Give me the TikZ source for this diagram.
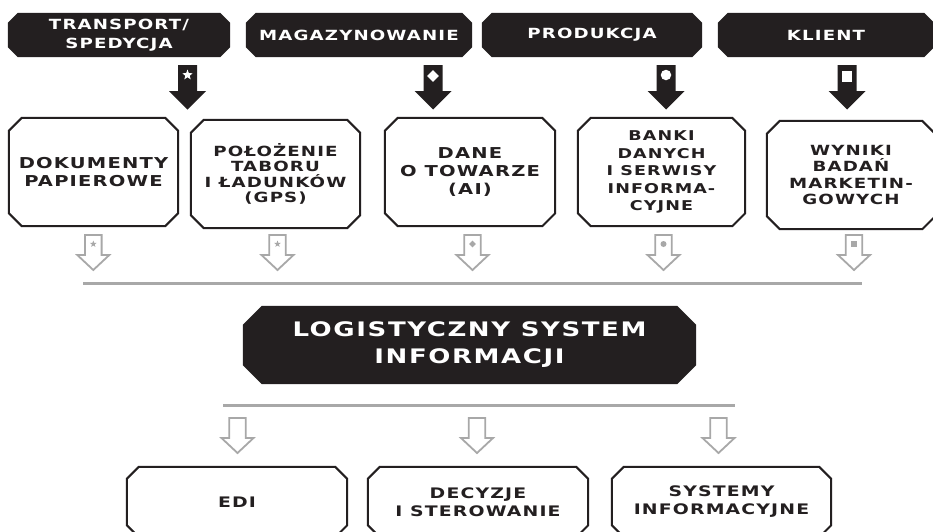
\documentclass[tikz,border=0pt]{standalone}
\usepackage{fontspec}
\newfontfamily\techfont{DejaVu Sans}[FakeStretch=1.3,LetterSpace=8]
\usetikzlibrary{shapes.geometric}
\definecolor{ink}{HTML}{231F20}
\definecolor{rulegray}{HTML}{A8A8A8}
\pgfdeclarelayer{paper}
\pgfdeclarelayer{bg}
\pgfsetlayers{paper,bg,main}

% octagonal frame behind a named node: #1 node, #2 corner cut, #3 path options
\newcommand\octframe[3]{%
  \begin{pgfonlayer}{bg}
  \path[#3] ([xshift=#2]#1.north west) -- ([xshift=-#2]#1.north east)
    -- ([yshift=-#2]#1.north east) -- ([yshift=#2]#1.south east)
    -- ([xshift=-#2]#1.south east) -- ([xshift=#2]#1.south west)
    -- ([yshift=#2]#1.south west) -- ([yshift=-#2]#1.north west) -- cycle;
  \end{pgfonlayer}}

% block arrow pointing down: #1 options, #2 centre x, #3 top y, #4 head y,
% #5 tip y, #6 half shaft width, #7 half head width
\newcommand\blockarrow[7]{%
  \path[#1] (#2-#6,#3) -- (#2+#6,#3) -- (#2+#6,#4) -- (#2+#7,#4)
    -- (#2,#5) -- (#2-#7,#4) -- (#2-#6,#4) -- cycle;}

\begin{document}
\begin{tikzpicture}[x=1pt,y=-1pt,
  every node/.style={inner sep=0pt, align=center},
  headbox/.style={minimum height=44pt, text=white,
    font=\techfont\bfseries\fontsize{14}{18.5}\selectfont},
  srcbox/.style={minimum height=108pt, text=ink,
    font=\techfont\bfseries\fontsize{15}{18}\selectfont},
  corebox/.style={minimum width=453pt, minimum height=78pt, text=white,
    font=\techfont\bfseries\fontsize{20}{27}\selectfont},
  outbox/.style={minimum height=70pt, text=ink,
    font=\techfont\bfseries\fontsize{14.5}{18}\selectfont},
  darkfill/.style={fill=ink},
  lightframe/.style={fill=white, draw=ink, line width=2pt},
  inkarrow/.style={fill=ink},
  grayarrow/.style={fill=white, draw=rulegray, line width=1.8pt, line join=miter},
  busline/.style={draw=rulegray, line width=3pt},
  whitemark/.style={fill=white, draw=none, inner sep=0pt},
  graymark/.style={fill=rulegray, draw=none, inner sep=0pt}
]
\useasboundingbox (0,0) rectangle (933,531);
\begin{pgfonlayer}{paper}
\fill[white] (0,0) rectangle (933,531);
\end{pgfonlayer}

% sources of information
\node[headbox, minimum width=222pt] (h1) at (119,35) {TRANSPORT/\\SPEDYCJA};
\node[headbox, minimum width=226pt] (h2) at (359,35) {MAGAZYNOWANIE};
\node[headbox, minimum width=220pt] (h3) at (592,35) {PRODUKCJA};
\node[headbox, minimum width=216pt] (h4) at (826,35) {KLIENT};
\octframe{h1}{10pt}{darkfill}
\octframe{h2}{10pt}{darkfill}
\octframe{h3}{10pt}{darkfill}
\octframe{h4}{10pt}{darkfill}

% kinds of data
\node[srcbox, minimum width=169pt] (b1) at (93.5,172) {DOKUMENTY\\PAPIEROWE};
\node[srcbox, minimum width=169pt, font=\techfont\bfseries\fontsize{14}{15.5}\selectfont]
  (b2) at (275.5,174) {POŁOŻENIE\\TABORU\\I ŁADUNKÓW\\(GPS)};
\node[srcbox, minimum width=170pt] (b3) at (470,172) {DANE\\O TOWARZE\\(AI)};
\node[srcbox, minimum width=167pt, font=\techfont\bfseries\fontsize{13.5}{17.5}\selectfont]
  (b4) at (661.5,172) {BANKI\\DANYCH\\I SERWISY\\INFORMA-\\CYJNE};
\node[srcbox, minimum width=168pt, font=\techfont\bfseries\fontsize{14}{16.5}\selectfont]
  (b5) at (851,175) {WYNIKI\\BADAŃ\\MARKETIN-\\GOWYCH};
\foreach \b in {b1,b2,b3,b4,b5}{\octframe{\b}{13pt}{lightframe}}

% black arrows from sources to data
\blockarrow{inkarrow}{187.5}{65}{91}{109.5}{9.5}{18.5}
\blockarrow{inkarrow}{433}{65}{91}{109.5}{9.5}{18.5}
\blockarrow{inkarrow}{666}{65}{91}{109.5}{9.5}{18.5}
\blockarrow{inkarrow}{847}{65}{91}{109.5}{9.5}{18.5}
\node[whitemark, star, star points=5, star point ratio=2.4, minimum size=11pt] (m1) at (187.5,75) {};
\node[whitemark, diamond, minimum size=12pt] (m2) at (433,76) {};
\node[whitemark, circle, minimum size=10.5pt] (m3) at (666,75) {};
\node[whitemark, rectangle, minimum width=10pt, minimum height=11pt] (m4) at (847,76) {};

% grey arrows down to the collecting line
\blockarrow{grayarrow}{93.3}{235}{255}{270}{8.3}{16}
\blockarrow{grayarrow}{277.5}{235}{255}{270}{8.3}{16}
\blockarrow{grayarrow}{472.5}{235}{255}{270}{8.3}{16}
\blockarrow{grayarrow}{663.5}{235}{255}{270}{8.3}{16}
\blockarrow{grayarrow}{854}{235}{255}{270}{8.3}{16}
\node[graymark, star, star points=5, star point ratio=2.4, minimum size=7pt] (g1) at (93.3,244) {};
\node[graymark, star, star points=5, star point ratio=2.4, minimum size=7pt] (g2) at (277.5,244) {};
\node[graymark, diamond, minimum size=7pt] (g3) at (472.5,244) {};
\node[graymark, circle, minimum size=6pt] (g4) at (663.5,244) {};
\node[graymark, rectangle, minimum size=6pt] (g5) at (854,244) {};

% collecting lines
\coordinate (busA-w) at (83,283);
\coordinate (busA-e) at (862,283);
\draw[busline] (busA-w) -- (busA-e);

% central system
\node[corebox] (core) at (469.5,345) {LOGISTYCZNY SYSTEM\\INFORMACJI};
\octframe{core}{19pt}{darkfill}

\coordinate (busB-w) at (223,405);
\coordinate (busB-e) at (735,405);
\draw[busline] (busB-w) -- (busB-e);

% outputs
\blockarrow{grayarrow}{237.5}{418}{438}{453}{8.3}{16}
\blockarrow{grayarrow}{477}{418}{438}{453}{8.3}{16}
\blockarrow{grayarrow}{718.5}{418}{438}{453}{8.3}{16}

\node[outbox, minimum width=220pt] (o1) at (237,502) {EDI};
\node[outbox, minimum width=220pt] (o2) at (478,502) {DECYZJE\\I STEROWANIE};
\node[outbox, minimum width=219pt] (o3) at (721.5,502) {SYSTEMY\\INFORMACYJNE};
\foreach \o in {o1,o2,o3}{\octframe{\o}{12pt}{lightframe}}
\end{tikzpicture}
\end{document}
